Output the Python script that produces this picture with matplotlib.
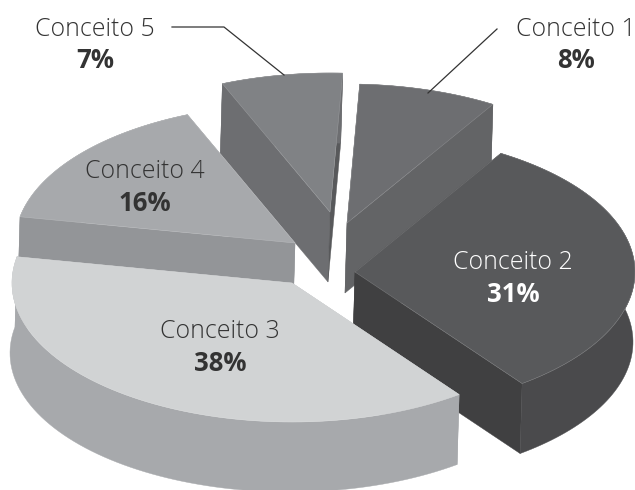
import numpy as np
import matplotlib
matplotlib.use("Agg")
import matplotlib.pyplot as plt
from matplotlib.patches import Polygon

# values (the slice sizes, the labels are rounded)
labels = ["Conceito 1", "Conceito 2", "Conceito 3", "Conceito 4", "Conceito 5"]
shares = [8.0, 31.1, 38.2, 15.7, 7.0]
share_text = ["8%", "31%", "38%", "16%", "7%"]

# colours per slice: top, first cut face, second cut face, outer wall
top_colors = ["#6d6e71", "#58595b", "#d1d3d4", "#a7a9ac", "#808285"]
start_cut = ["#636466", "#404041", "#a7a9ac", "#939598", "#6d6e71"]
end_cut = ["#636466", "#404041", "#a7a9ac", "#939598", "#58595b"]
wall_colors = ["#636466", "#4a4a4c", "#a7a9ac", "#939598", "#6d6e71"]
text_colors = ["#333333", "#ffffff", "#333333", "#333333", "#333333"]

# layout in pixels
apex = [(347, 223), (355, 272), (292, 283), (295, 243), (330, 212)]
label_pos = [(576, 29), (513, 262), (220, 331), (145, 171), (95, 29)]
rx, ry = 280, 139
depth = 70
lean = -2
start_angle = 2.6
draw_order = [4, 0, 3, 1, 2]

plt.rcParams['font.family'] = ['Open Sans', 'DejaVu Sans']

fig = plt.figure(figsize=(6.35, 4.9), dpi=100)
ax = fig.add_axes([0, 0, 1, 1])
ax.set_xlim(0, 635)
ax.set_ylim(490, 0)
ax.axis("off")

edges = start_angle + np.concatenate([[0], np.cumsum(shares)]) * 3.6


def rim(i):
    # outer arc of slice i on the top face
    t = np.radians(np.linspace(edges[i], edges[i + 1], 80))
    return np.column_stack([apex[i][0] + rx * np.sin(t), apex[i][1] - ry * np.cos(t)])


def face(points, color):
    ax.add_patch(Polygon(points, closed=True, facecolor=color, edgecolor=color, lw=0.3))


for i in draw_order:
    arc = rim(i)
    a = np.array(apex[i], dtype=float)
    drop = np.array([lean, depth])
    # cut faces first, then the wall, the top goes over them
    face([arc[0], a, a + drop, arc[0] + drop], start_cut[i])
    face([arc[-1], a, a + drop, arc[-1] + drop], end_cut[i])
    face(np.vstack([arc, (arc + drop)[::-1]]), wall_colors[i])
    outline = np.vstack([a, arc, a])
    face(outline, top_colors[i])
    ax.plot(outline[:, 0], outline[:, 1], color="white", lw=0.4, alpha=0.2)

# leader lines
ax.plot([172, 224, 284], [27, 27, 75], color="#333333", lw=0.9)
ax.plot([497, 428], [29, 93], color="#333333", lw=0.9)

for i in range(len(labels)):
    x, y = label_pos[i]
    ax.text(x, y, labels[i], ha="center", va="center", fontsize=17.9,
            fontweight="light", color=text_colors[i])
    ax.text(x, y + 32, share_text[i], ha="center", va="center", fontsize=18.5,
            fontweight="bold", color=text_colors[i])

fig.savefig("out.png", dpi=100)
